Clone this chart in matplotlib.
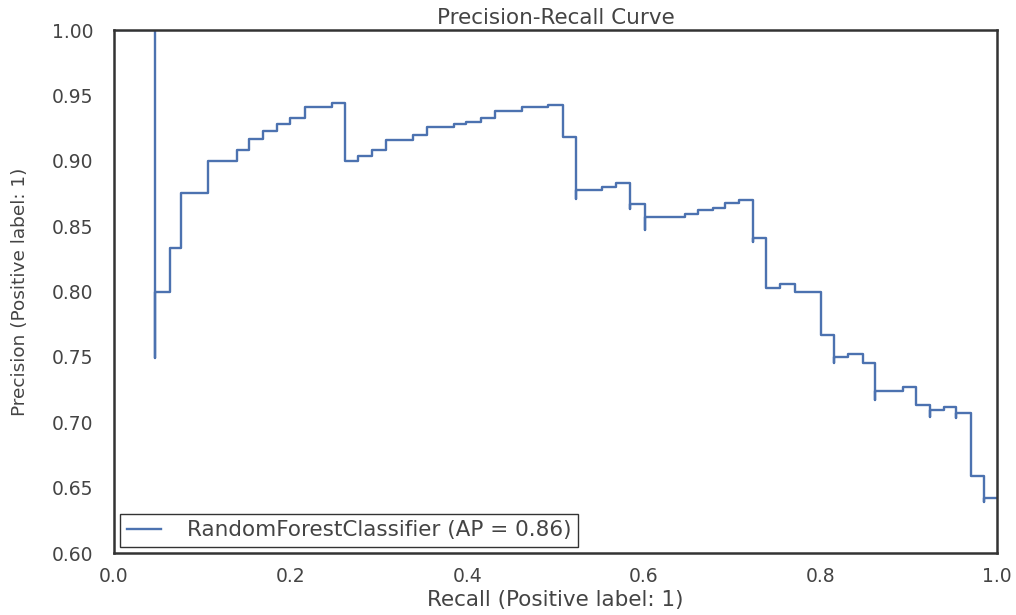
import matplotlib
matplotlib.use("Agg")
import matplotlib.pyplot as plt

# Precision-recall curve points (sklearn order: recall decreasing)
recall = [1.000, 0.985, 0.985, 0.971, 0.954, 0.954, 0.940, 0.924, 0.924, 0.908,
          0.894, 0.862, 0.862, 0.848, 0.831, 0.815, 0.815, 0.801, 0.771, 0.754,
          0.738, 0.724, 0.724, 0.708, 0.692, 0.678, 0.661, 0.647, 0.601, 0.601,
          0.584, 0.584, 0.569, 0.553, 0.523, 0.523, 0.508, 0.492, 0.462, 0.431,
          0.416, 0.399, 0.385, 0.354, 0.339, 0.308, 0.292, 0.276, 0.262, 0.247,
          0.216, 0.199, 0.185, 0.169, 0.153, 0.139, 0.107, 0.076, 0.063, 0.046,
          0.046, 0.000]
precision = [0.642, 0.639, 0.659, 0.707, 0.703, 0.712, 0.709, 0.704, 0.713, 0.727,
             0.724, 0.717, 0.745, 0.752, 0.750, 0.745, 0.767, 0.800, 0.806, 0.803,
             0.841, 0.838, 0.870, 0.868, 0.864, 0.862, 0.859, 0.857, 0.847, 0.867,
             0.863, 0.883, 0.880, 0.878, 0.871, 0.918, 0.943, 0.941, 0.938, 0.933,
             0.930, 0.928, 0.926, 0.920, 0.916, 0.908, 0.904, 0.900, 0.944, 0.941,
             0.933, 0.928, 0.923, 0.917, 0.908, 0.900, 0.875, 0.833, 0.800, 0.749,
             1.000, 1.000]
label = "RandomForestClassifier (AP = 0.86)"
title = "Precision-Recall Curve"
xlabel = "Recall (Positive label: 1)"
ylabel = "Precision (Positive label: 1)"
xticks = [0.0, 0.2, 0.4, 0.6, 0.8, 1.0]
yticks = [0.60, 0.65, 0.70, 0.75, 0.80, 0.85, 0.90, 0.95, 1.00]

plt.rcParams['font.family'] = ['DejaVu Sans']
txt = '#444444'

fig = plt.figure(figsize=(10.16, 6.15), dpi=100)
ax = fig.add_axes([0.1122, 0.1008, 0.8691, 0.8504])
ax.plot(recall, precision, drawstyle='steps-post', color='#4C72B0', lw=1.7,
        label=label)
ax.set_xlim(0.0, 1.0)
ax.set_ylim(0.60, 1.00)
ax.set_xticks(xticks)
ax.set_yticks(yticks)
ax.set_yticklabels(["%.2f" % v for v in yticks])
ax.set_xticklabels(["%.1f" % v for v in xticks])
ax.tick_params(length=0, labelsize=13.5, colors=txt)
ax.tick_params(axis='y', pad=15)
ax.tick_params(axis='x', pad=10)
for s in ax.spines.values():
    s.set_color('#333333')
    s.set_linewidth(1.8)
ax.set_title(title, fontsize=15.5, color=txt, pad=4)
ax.set_xlabel(xlabel, fontsize=15.5, color=txt)
ax.set_ylabel(ylabel, fontsize=13.3, color=txt)
ax.xaxis.set_label_coords(0.5, -0.071)
ax.yaxis.set_label_coords(-0.096, 0.5)
leg = ax.legend(loc='lower left', fontsize=15.5, fancybox=False, frameon=True,
                edgecolor='black', borderaxespad=0.3, handlelength=1.6,
                handletextpad=1.2, borderpad=0.3)
leg.get_frame().set_linewidth(1.0)
for t in leg.get_texts():
    t.set_color(txt)

fig.savefig("out.png", dpi=100)
